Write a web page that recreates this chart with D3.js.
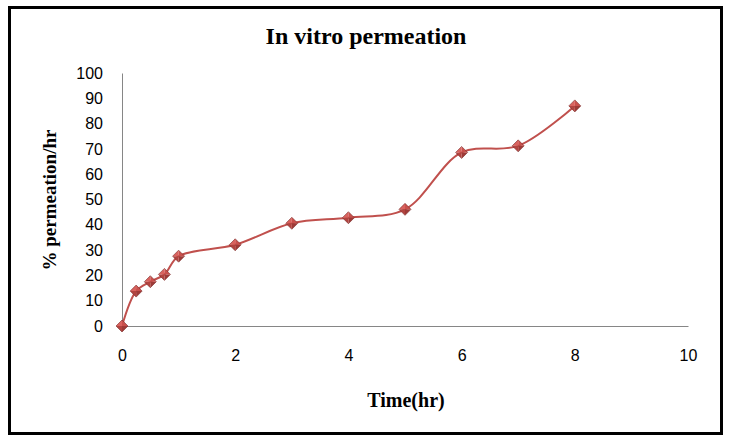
<html>
<script src="https://d3js.org/d3.v7.min.js"></script>
<style>
    body { margin: 0; background: white; }
    .tick text { font-family: "Liberation Sans", Arial, sans-serif; font-size: 16px; fill: #000; }
</style>
<body>
<svg id="visual" width="731" height="442"></svg>
<script>
    // data
    const timeHr = [0, 0.25, 0.5, 0.75, 1, 2, 3, 4, 5, 6, 7, 8];
    const permeation = [0, 13.8, 17.5, 20.4, 27.6, 32.1, 40.6, 42.8, 46.1, 68.6, 71.2, 87.0];
    const xTicks = [0, 2, 4, 6, 8, 10];
    const yTicks = [0, 10, 20, 30, 40, 50, 60, 70, 80, 90, 100];

    const data = timeHr.map((t, i) => ({ t: t, p: permeation[i] }));

    var svg = d3.select("svg");

    // outer frame
    svg.append("rect")
        .attr("x", 9.5).attr("y", 7.5)
        .attr("width", 712).attr("height", 426)
        .attr("fill", "white")
        .attr("stroke", "black")
        .attr("stroke-width", 3);

    var x = d3.scaleLinear().domain([0, 10]).range([122, 688]);
    var y = d3.scaleLinear().domain([0, 100]).range([326, 73]);

    // y axis
    var yAxis = svg.append("g")
        .attr("transform", "translate(122,0)")
        .call(d3.axisLeft(y).tickValues(yTicks).tickSize(0).tickPadding(19));
    yAxis.select(".domain").attr("stroke", "#868686");

    // x axis
    var xAxis = svg.append("g")
        .attr("transform", "translate(0,326)")
        .call(d3.axisBottom(x).tickValues(xTicks).tickSize(0).tickPadding(24));
    xAxis.select(".domain").attr("stroke", "#868686");

    // title and axis titles
    svg.append("text")
        .attr("x", 366).attr("y", 44)
        .attr("text-anchor", "middle")
        .style("font-family", "'Liberation Serif', 'Times New Roman', serif")
        .style("font-weight", "bold")
        .style("font-size", "24px")
        .text("In vitro permeation");

    svg.append("text")
        .attr("x", 406).attr("y", 407)
        .attr("text-anchor", "middle")
        .style("font-family", "'Liberation Serif', 'Times New Roman', serif")
        .style("font-weight", "bold")
        .style("font-size", "20px")
        .text("Time(hr)");

    svg.append("text")
        .attr("transform", "translate(56,200) rotate(-90)")
        .attr("text-anchor", "middle")
        .style("font-family", "'Liberation Serif', 'Times New Roman', serif")
        .style("font-weight", "bold")
        .style("font-size", "19px")
        .text("% permeation/hr");

    // smoothed line
    var line = d3.line()
        .x(d => x(d.t))
        .y(d => y(d.p))
        .curve(d3.curveCatmullRom.alpha(0.5));

    svg.append("path")
        .datum(data)
        .attr("d", line)
        .attr("fill", "none")
        .attr("stroke", "#c0504d")
        .attr("stroke-width", 2);

    // diamond markers with a faceted look
    var s = 6;
    var marks = svg.selectAll(".mark")
        .data(data)
        .enter()
        .append("g")
        .attr("class", "mark")
        .attr("transform", d => "translate(" + x(d.t) + "," + y(d.p) + ")");

    var facets = [
        { d: `M0,0L0,${-s}L${-s},0Z`, c: "#d9625e" },
        { d: `M0,0L0,${-s}L${s},0Z`, c: "#c9504c" },
        { d: `M0,0L${s},0L0,${s}Z`, c: "#9e3a37" },
        { d: `M0,0L0,${s}L${-s},0Z`, c: "#b2433f" }
    ];
    facets.forEach(function (f) {
        marks.append("path").attr("d", f.d).attr("fill", f.c);
    });
    marks.append("path")
        .attr("d", `M0,${-s}L${s},0L0,${s}L${-s},0Z`)
        .attr("fill", "none")
        .attr("stroke", "#7a2c2a")
        .attr("stroke-width", 0.6);
</script>
</body>
</html>
